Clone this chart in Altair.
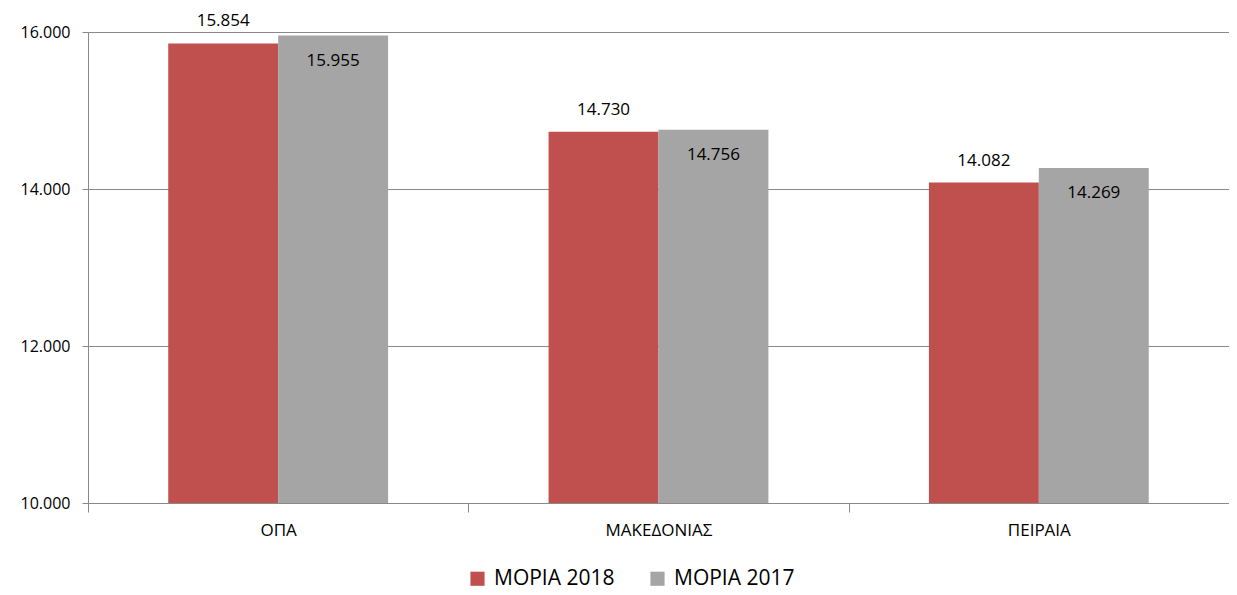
import altair as alt
import pandas as pd

categories = ["ΟΠΑ", "ΜΑΚΕΔΟΝΙΑΣ", "ΠΕΙΡΑΙΑ"]
series = ["ΜΟΡΙΑ 2018", "ΜΟΡΙΑ 2017"]
moria_2018 = [15854, 14730, 14082]
moria_2017 = [15955, 14756, 14269]
y_ticks = [10000, 12000, 14000, 16000]

rows = []
for i, c in enumerate(categories):
    rows.append({"cat": c, "series": series[0], "value": moria_2018[i]})
    rows.append({"cat": c, "series": series[1], "value": moria_2017[i]})
df = pd.DataFrame(rows)

FONT = "Open Sans"
GRID = "#898989"

base = alt.Chart(df).transform_calculate(
    label="replace(format(datum.value, ',.0f'), ',', '.')"
)

x_scale = alt.Scale(paddingInner=0, paddingOuter=0)
x_enc = alt.X(
    "cat:N",
    sort=categories,
    title=None,
    scale=x_scale,
    axis=alt.Axis(
        labelAngle=0, labelFont=FONT, labelFontSize=17, labelColor="#000",
        labelPadding=10, tickBand="extent", tickSize=9, tickColor=GRID,
        domainColor=GRID, grid=False,
    ),
)
y_scale = alt.Scale(domain=[10000, 16000], nice=False, zero=False)
y_enc = alt.Y(
    "value:Q",
    scale=y_scale,
    title=None,
    axis=alt.Axis(
        values=y_ticks, labelExpr="replace(format(datum.value, ',.0f'), ',', '.')",
        labelFont=FONT, labelFontSize=16, labelColor="#000", labelPadding=12,
        tickSize=6, tickColor=GRID, domainColor=GRID, gridColor=GRID,
        gridWidth=1,
    ),
)
off_scale = alt.Scale(paddingInner=0, paddingOuter=0.73)
xoff = alt.XOffset("series:N", sort=series, scale=off_scale)

bars = base.mark_bar().encode(
    x=x_enc,
    xOffset=xoff,
    y=y_enc,
    y2=alt.datum(10000),
    color=alt.Color(
        "series:N",
        sort=series,
        scale=alt.Scale(domain=series, range=["#C0504D", "#A5A5A5"]),
        legend=alt.Legend(
            title=None, orient="none", direction="horizontal",
            legendX=379, legendY=536, symbolType="square", symbolSize=200,
            symbolStrokeWidth=0, labelFont=FONT, labelFontSize=21,
            labelColor="#000", columnPadding=32, labelOffset=6,
        ),
    ),
)

lab18 = base.transform_filter(alt.datum.series == series[0]).mark_text(
    font=FONT, fontSize=17, color="#000", baseline="middle", dy=-22
).encode(
    x=alt.X("cat:N", sort=categories, scale=x_scale),
    xOffset=alt.XOffset("series:N", sort=series, scale=off_scale),
    y=alt.Y("value:Q", scale=y_scale),
    text="label:N",
)
lab17 = base.transform_filter(alt.datum.series == series[1]).mark_text(
    font=FONT, fontSize=17, color="#000", baseline="middle", dy=25
).encode(
    x=alt.X("cat:N", sort=categories, scale=x_scale),
    xOffset=alt.XOffset("series:N", sort=series, scale=off_scale),
    y=alt.Y("value:Q", scale=y_scale),
    text="label:N",
)

chart = alt.layer(bars, lab18, lab17).properties(
    width=1141, height=471,
    autosize=alt.AutoSizeParams(type="none"),
    padding={"left": 80, "top": 24, "right": 0, "bottom": 90},
).configure_view(stroke=None)

chart.save("out.html", embed_options={"renderer": "svg", "actions": False})
